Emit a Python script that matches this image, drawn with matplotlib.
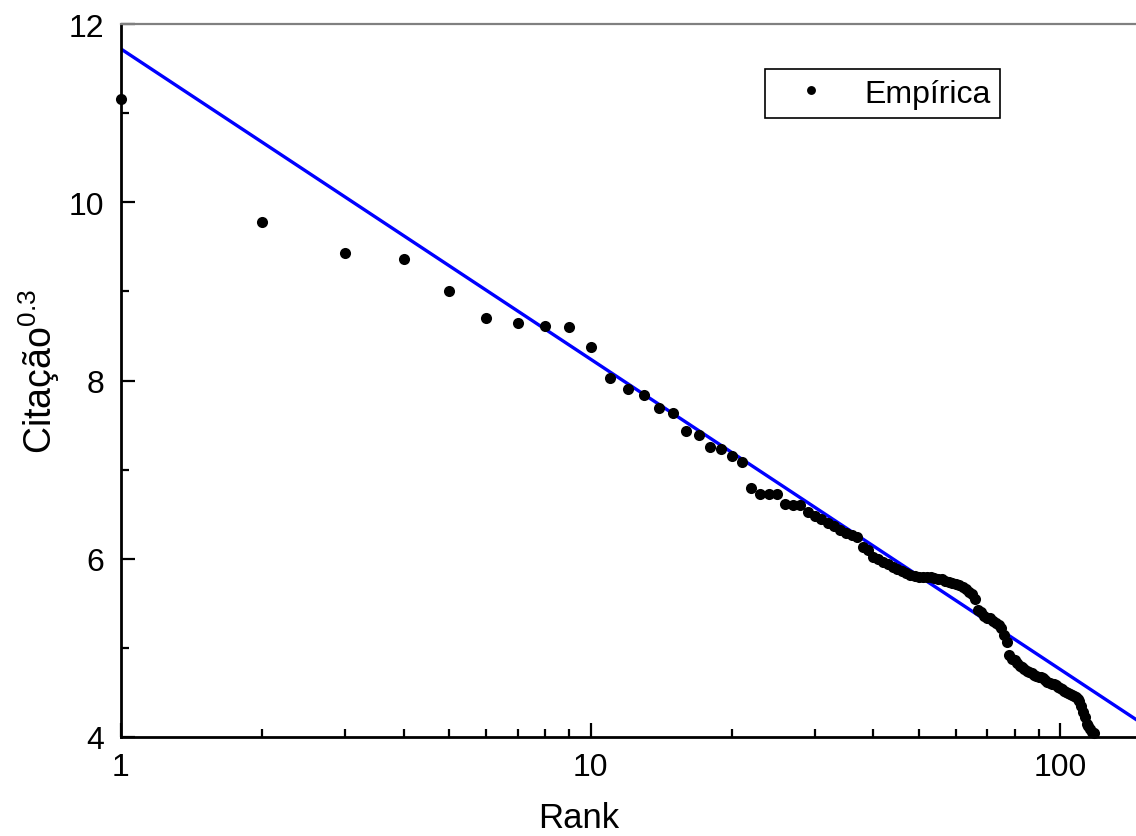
import numpy as np
import matplotlib
matplotlib.use("Agg")
import matplotlib.pyplot as plt
from matplotlib.ticker import FixedLocator, NullFormatter, LogLocator

plt.rcParams['font.family'] = ['Liberation Sans', 'DejaVu Sans']
plt.rcParams['mathtext.fontset'] = 'custom'
plt.rcParams['mathtext.rm'] = 'Liberation Sans'
plt.rcParams['mathtext.it'] = 'Liberation Sans'

# Empirical citation values (citations^0.3) ordered by rank
citacao = [
    11.16, 9.78, 9.43, 9.36, 9.00, 8.70, 8.645, 8.61, 8.60, 8.38,
    8.03, 7.90, 7.84, 7.69, 7.63, 7.43, 7.39, 7.25, 7.23, 7.15,
    7.08, 6.79, 6.73, 6.73, 6.73, 6.61, 6.60, 6.60, 6.53, 6.48,
    6.45, 6.40, 6.37, 6.32, 6.29, 6.27, 6.24, 6.13, 6.10, 6.02,
    6.00, 5.96, 5.94, 5.91, 5.88, 5.86, 5.84, 5.82, 5.81, 5.80,
    5.80, 5.79, 5.79, 5.78, 5.77, 5.77, 5.75, 5.74, 5.73, 5.72,
    5.70, 5.68, 5.66, 5.63, 5.60, 5.55, 5.42, 5.40, 5.36, 5.34,
    5.33, 5.30, 5.28, 5.26, 5.22, 5.15, 5.07, 4.92, 4.88, 4.86,
    4.83, 4.80, 4.78, 4.76, 4.74, 4.73, 4.72, 4.70, 4.68, 4.67,
    4.67, 4.66, 4.64, 4.62, 4.61, 4.60, 4.59, 4.58, 4.56, 4.55,
    4.54, 4.52, 4.51, 4.49, 4.48, 4.47, 4.46, 4.45, 4.43, 4.40,
    4.35, 4.28, 4.22, 4.15, 4.12, 4.09, 4.06, 4.04,
]
rank = np.arange(1, len(citacao) + 1)

# Fitted straight line: y = intercept + slope * log10(rank)
fit_intercept = 11.72
fit_slope = -3.48

x_ticks = [1, 10, 100]
y_ticks = [4, 6, 8, 10, 12]

fig = plt.figure(figsize=(11.36, 8.37), dpi=100)
ax = fig.add_axes([121 / 1136, 99 / 837, 1019 / 1136, 713 / 837])

xmax = 10 ** (1019 / 469.5)
xs = np.array([1.0, xmax])
ax.plot(xs, fit_intercept + fit_slope * np.log10(xs), color='#0000ff', lw=2.4,
        zorder=2)
ax.plot(rank, citacao, 'o', color='black', markersize=8, markeredgewidth=0,
        label='Empírica', zorder=3, clip_on=False)

ax.set_xscale('log')
ax.set_xlim(1, xmax)
ax.set_ylim(4, 12)

ax.xaxis.set_major_locator(FixedLocator(x_ticks))
ax.set_xticklabels([str(t) for t in x_ticks])
ax.xaxis.set_minor_locator(LogLocator(base=10, subs=np.arange(2, 10)))
ax.xaxis.set_minor_formatter(NullFormatter())
ax.yaxis.set_major_locator(FixedLocator(y_ticks))
ax.set_yticklabels([str(t) for t in y_ticks])
ax.yaxis.set_minor_locator(FixedLocator([5, 7, 9, 11]))

ax.tick_params(which='major', direction='in', length=10, width=1.6,
               labelsize=23, color='black')
ax.tick_params(axis='x', which='major', pad=11)
ax.tick_params(axis='y', which='major', pad=12)
ax.tick_params(which='minor', direction='in', length=6, width=1.6, color='black')
ax.tick_params(top=False, right=False, which='both')

for side in ['left', 'bottom']:
    ax.spines[side].set_linewidth(2.0)
    ax.spines[side].set_color('black')
ax.spines['top'].set_linewidth(1.6)
ax.spines['top'].set_color('#808080')
ax.spines['right'].set_visible(False)

ax.set_xlabel('Rank', fontsize=25)
ax.xaxis.set_label_coords((579 - 121) / 1019, -0.09)
ax.set_ylabel('Citação$^{0.3}$', fontsize=27)
ax.yaxis.set_label_coords((62 - 121) / 1019, (738 - 372) / 713)

leg = ax.legend(loc='upper left', bbox_to_anchor=(765 / 1136, 1 - 70 / 837),
                bbox_transform=fig.transFigure, fontsize=23, frameon=True,
                fancybox=False, edgecolor='black', framealpha=1,
                handlelength=2.3, handletextpad=0.5, borderpad=0.3,
                borderaxespad=0, markerscale=0.8)
leg.get_frame().set_linewidth(1.2)

fig.savefig('out.png', dpi=100)
